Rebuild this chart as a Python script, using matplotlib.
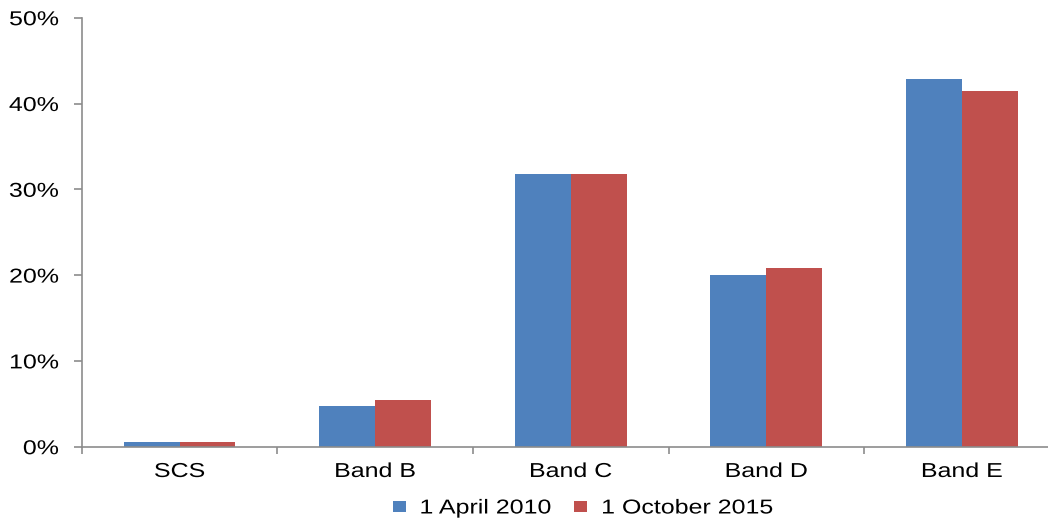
import matplotlib
matplotlib.use("Agg")
import matplotlib.pyplot as plt
from matplotlib.patches import Patch
from matplotlib.patheffects import AbstractPathEffect
from matplotlib.transforms import Affine2D
from matplotlib.ticker import FuncFormatter
import numpy as np

categories = ["SCS", "Band B", "Band C", "Band D", "Band E"]
series_names = ["1 April 2010", "1 October 2015"]
april_2010 = [0.6, 4.7, 31.8, 20.0, 42.9]
october_2015 = [0.6, 5.4, 31.8, 20.8, 41.4]
y_ticks = [0, 10, 20, 30, 40, 50]

blue = "#4F81BD"
red = "#C0504D"
axis_grey = "#8C8C8C"
FS = 14.5
SX = 1.24  # horizontal widening of the lettering


class StretchX(AbstractPathEffect):
    """Draw text glyphs widened horizontally about a chosen anchor."""

    def __init__(self, sx, anchor=0.5):
        super().__init__()
        self.sx = sx
        self.anchor = anchor

    def draw_path(self, renderer, gc, tpath, affine, rgbFace=None):
        ext = tpath.get_extents(affine)
        x0 = ext.x0 + self.anchor * ext.width
        t = affine + Affine2D().translate(-x0, 0).scale(self.sx, 1).translate(x0, 0)
        renderer.draw_path(gc, tpath, t, rgbFace)


plt.rcParams["font.family"] = ["Liberation Sans", "DejaVu Sans"]

W, H = 1048, 520
fig = plt.figure(figsize=(W / 100, H / 100), dpi=100)
ax = fig.add_axes([81.7 / W, (H - 446.7) / H, 978 / W, 429 / H])

x = np.arange(len(categories))
bw = 0.286
ax.bar(x - bw / 2, april_2010, width=bw, color=blue, linewidth=0, zorder=2)
ax.bar(x + bw / 2, october_2015, width=bw, color=red, linewidth=0, zorder=2)

ax.set_xlim(-0.5, len(categories) - 0.5)
ax.set_ylim(0, 50)

for side in ("top", "right"):
    ax.spines[side].set_visible(False)
for side in ("left", "bottom"):
    ax.spines[side].set_color(axis_grey)
    ax.spines[side].set_linewidth(1.2)
    ax.spines[side].set_clip_on(False)

ax.set_yticks(y_ticks)
ax.yaxis.set_major_formatter(FuncFormatter(lambda v, p: f"{int(v)}%"))
ax.tick_params(axis="y", direction="out", length=5.5, width=1.2,
               color=axis_grey, labelsize=FS, pad=11, labelcolor="black")

# category boundaries carry the tick marks, centres carry the labels
ax.set_xticks(np.arange(-0.5, len(categories), 1.0))
ax.set_xticklabels([])
ax.set_xticks(x, minor=True)
ax.set_xticklabels(categories, minor=True)
ax.tick_params(axis="x", which="major", direction="out", length=5, width=1.2,
               color=axis_grey)
ax.tick_params(axis="x", which="minor", length=0, labelsize=FS, pad=11,
               labelcolor="black")

for lbl in ax.get_yticklabels():
    lbl.set_path_effects([StretchX(SX, anchor=1.0)])
for lbl in ax.get_xticklabels(minor=True):
    lbl.set_path_effects([StretchX(SX, anchor=0.5)])

handles = [Patch(facecolor=blue, edgecolor="none"),
           Patch(facecolor=red, edgecolor="none")]
leg = fig.legend(handles, series_names, loc="center",
                 bbox_to_anchor=(566.5 / W, 1 - 508 / H), ncol=2, frameon=False,
                 fontsize=FS, handlelength=0.65, handleheight=0.5,
                 handletextpad=0.7, columnspacing=2.4, borderpad=0)
for t in leg.get_texts():
    t.set_path_effects([StretchX(SX, anchor=0.0)])

fig.savefig("out.png", dpi=100, facecolor="white")
